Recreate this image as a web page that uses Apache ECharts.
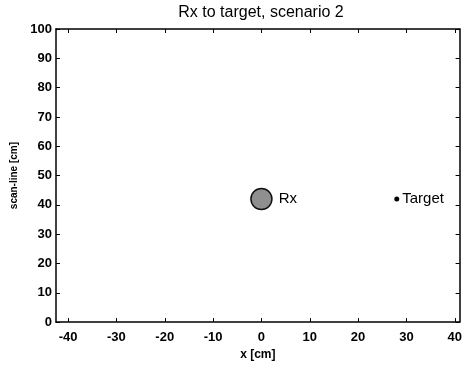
<!DOCTYPE html>
<html>
<head>
<meta charset="utf-8">
<script src="https://cdn.jsdelivr.net/npm/echarts@6/dist/echarts.min.js"></script>
<style>
  html, body { margin: 0; padding: 0; background: #fff; }
  #chart { width: 465px; height: 366px; }
</style>
</head>
<body>
<div id="chart"></div>
<script>
// points on the scan plane
const rxPoint = [0, 42];
const targetPoint = [28, 42];
const xTicks = [-40, -30, -20, -10, 0, 10, 20, 30, 40];
const yTicks = [0, 10, 20, 30, 40, 50, 60, 70, 80, 90, 100];

const chart = echarts.init(document.getElementById('chart'));
const font = 'Liberation Sans, Arial, sans-serif';

const xBase = {
  type: 'value', min: -42.5, max: 41, interval: 10,
  splitLine: { show: false },
  axisLine: { show: true, onZero: false, lineStyle: { color: '#000', width: 1.5 } },
  axisTick: { show: true, inside: true, length: 4, lineStyle: { color: '#000' },
    customValues: xTicks }
};
const yBase = {
  type: 'value', min: 0, max: 100, interval: 10,
  splitLine: { show: false },
  axisLine: { show: true, onZero: false, lineStyle: { color: '#000', width: 1.5 } },
  axisTick: { show: true, inside: true, length: 4, lineStyle: { color: '#000' },
    customValues: yTicks }
};

option = {
  animation: false,
  title: {
    text: 'Rx to target, scenario 2',
    left: 256, top: 0, textAlign: 'center',
    textStyle: { fontFamily: font, fontSize: 16, fontWeight: 'normal', color: '#000' }
  },
  grid: { left: 56, right: 4, top: 29, bottom: 43 },
  xAxis: [
    Object.assign({}, xBase, {
      position: 'bottom',
      name: 'x [cm]', nameLocation: 'middle', nameGap: 25,
      nameTextStyle: { fontFamily: font, fontSize: 12, fontWeight: 'bold', color: '#000' },
      axisLabel: { fontFamily: font, fontSize: 13, fontWeight: 'bold', color: '#000', margin: 9,
        customValues: xTicks }
    }),
    Object.assign({}, xBase, { position: 'top', axisLabel: { show: false } })
  ],
  yAxis: [
    Object.assign({}, yBase, {
      position: 'left',
      name: 'scan-line [cm]', nameLocation: 'middle', nameGap: 32,
      nameTextStyle: { fontFamily: font, fontSize: 10, fontWeight: 'bold', color: '#000' },
      axisLabel: { fontFamily: font, fontSize: 13, fontWeight: 'bold', color: '#000', margin: 4,
        customValues: yTicks }
    }),
    Object.assign({}, yBase, { position: 'right', axisLabel: { show: false } })
  ],
  series: [
    {
      type: 'scatter', data: [rxPoint], symbol: 'circle', symbolSize: 21,
      itemStyle: { color: '#8f8f8f', borderColor: '#111', borderWidth: 1.5, opacity: 1 },
      label: { show: true, position: 'right', distance: 6, formatter: 'Rx',
        fontFamily: font, fontSize: 15, color: '#000' }
    },
    {
      type: 'scatter', data: [targetPoint], symbol: 'circle', symbolSize: 5,
      itemStyle: { color: '#000', opacity: 1 },
      label: { show: true, position: 'right', distance: 3, formatter: 'Target',
        fontFamily: font, fontSize: 15, color: '#000' }
    }
  ]
};
chart.setOption(option);
</script>
</body>
</html>
